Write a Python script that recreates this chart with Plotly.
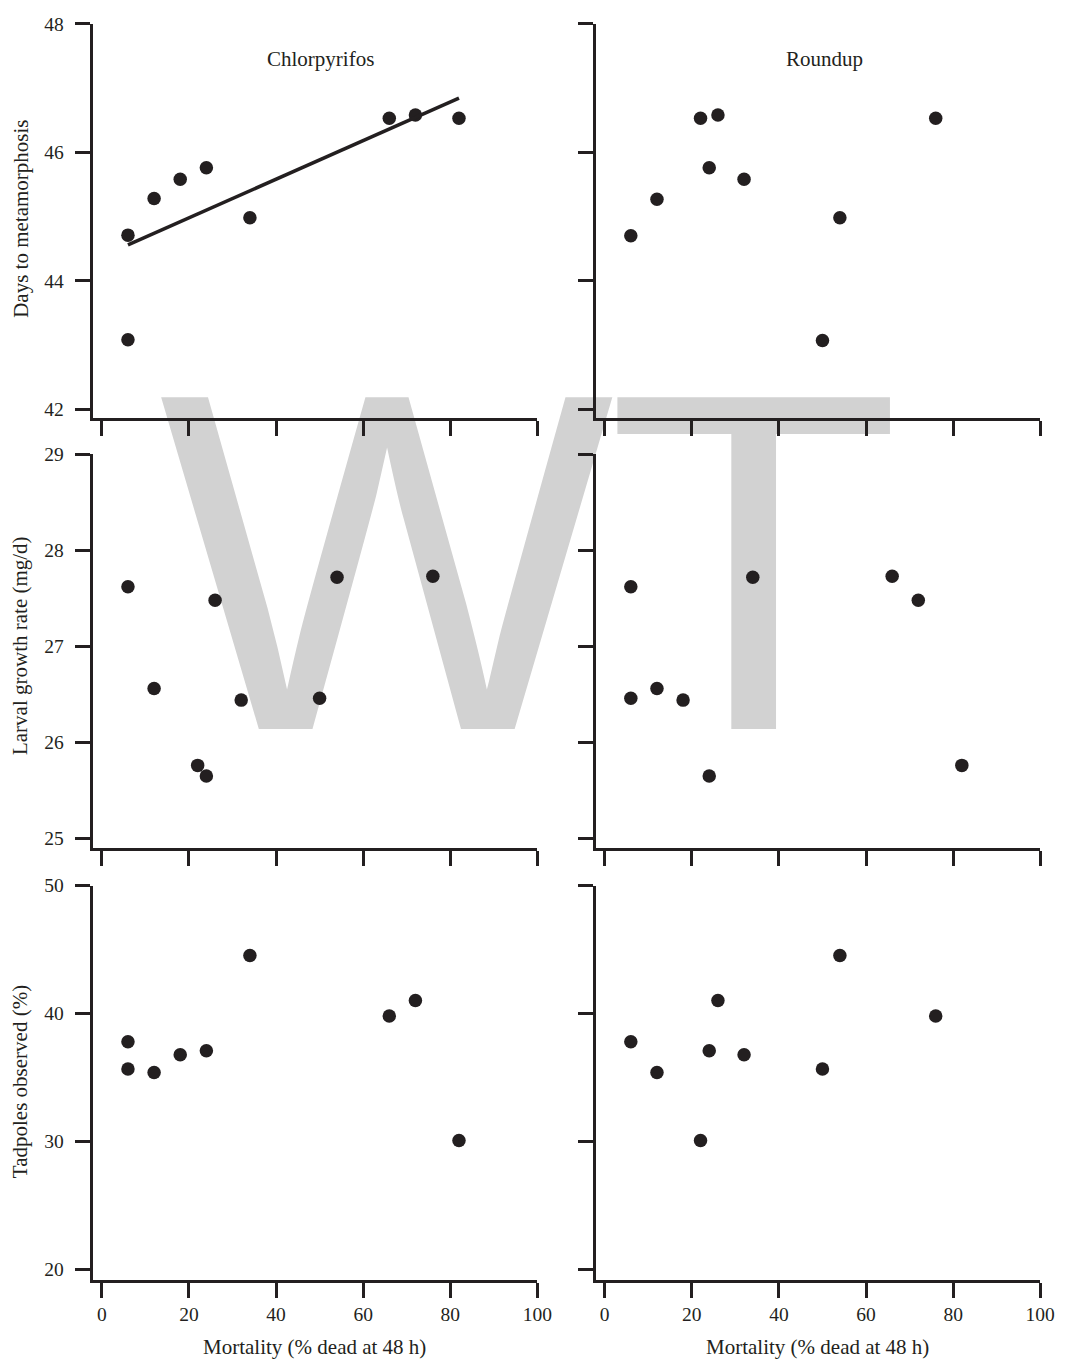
import numpy as np
import plotly.graph_objects as go

# ---------------- data ----------------
chlor_mortality = [6, 6, 12, 18, 24, 34, 66, 72, 82]
round_mortality = [6, 12, 22, 24, 26, 32, 50, 54, 76]

# Days to metamorphosis
days_chlor = [44.71, 43.08, 45.28, 45.58, 45.76, 44.98, 46.53, 46.58, 46.53]
days_round = [44.70, 45.27, 46.53, 45.76, 46.58, 45.58, 43.07, 44.98, 46.53]

# Larval growth rate (mg/d), as plotted
growth_left_x = [6, 12, 22, 24, 26, 32, 50, 54, 76]
growth_left_y = [27.62, 26.56, 25.76, 25.65, 27.48, 26.44, 26.46, 27.72, 27.73]
growth_right_x = [6, 6, 12, 18, 24, 34, 66, 72, 82]
growth_right_y = [27.62, 26.46, 26.56, 26.44, 25.65, 27.72, 27.73, 27.48, 25.76]

# Tadpoles observed (%)
tad_chlor = [37.79, 35.67, 35.39, 36.78, 37.09, 44.53, 39.80, 41.01, 30.07]
tad_round = [37.79, 35.39, 30.07, 37.09, 41.01, 36.78, 35.67, 44.53, 39.80]

col_titles = ["Chlorpyrifos", "Roundup"]
row_titles = ["Days to metamorphosis", "Larval growth rate (mg/d)", "Tadpoles observed (%)"]
x_title = "Mortality (% dead at 48 h)"
x_ticks = [0, 20, 40, 60, 80, 100]
y_ticks = [[42, 44, 46, 48], [25, 26, 27, 28, 29], [20, 30, 40, 50]]
y_ranges = [[41.86, 48], [24.896, 29], [19.218, 50]]
x_range = [-2.1, 100]
watermark_letters = ["W", "T"]

# ---------------- layout geometry (pixels) ----------------
W, H = 1072, 1361
INK = "#231f20"
FONT = "Liberation Serif, Times New Roman, serif"

col_px = [(94.0, 545.0), (604.0, 1055.0)]
row_px = [(14.0, 411.8), (448.3, 845.8), (883.3, 1280.8)]

panels = [
    (0, 0, chlor_mortality, days_chlor),
    (0, 1, round_mortality, days_round),
    (1, 0, growth_left_x, growth_left_y),
    (1, 1, growth_right_x, growth_right_y),
    (2, 0, chlor_mortality, tad_chlor),
    (2, 1, round_mortality, tad_round),
]

fig = go.Figure()
layout = {}
for i, (r, c, xs, ys) in enumerate(panels):
    n = i + 1
    xa = "xaxis" if n == 1 else f"xaxis{n}"
    ya = "yaxis" if n == 1 else f"yaxis{n}"
    xref = "x" if n == 1 else f"x{n}"
    yref = "y" if n == 1 else f"y{n}"
    fig.add_trace(go.Scatter(
        x=xs, y=ys, mode="markers", xaxis=xref, yaxis=yref,
        marker=dict(size=13.5, color=INK, line=dict(width=0)),
        showlegend=False, cliponaxis=False,
    ))
    if r == 0 and c == 0:
        slope, intercept = np.polyfit(xs, ys, 1)
        fx = [min(xs), max(xs)]
        fy = [slope * v + intercept for v in fx]
        fig.add_trace(go.Scatter(
            x=fx, y=fy, mode="lines", xaxis=xref, yaxis=yref,
            line=dict(color=INK, width=3.5), showlegend=False,
        ))
    x0, x1 = col_px[c]
    y0, y1 = row_px[r]
    layout[xa] = dict(
        domain=[x0 / W, x1 / W], range=x_range, anchor=yref,
        showline=True, linewidth=3, linecolor=INK,
        ticks="outside", ticklen=15, tickwidth=3, tickcolor=INK,
        tickvals=x_ticks, showticklabels=(r == 2),
        tickfont=dict(family=FONT, size=19.5, color=INK),
        showgrid=False, zeroline=False, fixedrange=True,
    )
    layout[ya] = dict(
        domain=[1 - y1 / H, 1 - y0 / H], range=y_ranges[r], anchor=xref,
        showline=True, linewidth=3, linecolor=INK,
        ticks="outside", ticklen=15, tickwidth=3, tickcolor=INK,
        tickvals=y_ticks[r], showticklabels=(c == 0),
        ticklabelstandoff=7,
        tickfont=dict(family=FONT, size=19.5, color=INK),
        showgrid=False, zeroline=False, fixedrange=True,
    )

annotations = []
for t, cx in zip(col_titles, [325, 836]):
    annotations.append(dict(text=t, x=cx / W, y=1 - 49 / H, xref="paper", yref="paper",
                            showarrow=False, xanchor="center", yanchor="middle",
                            font=dict(family=FONT, size=21, color=INK)))
for t, cy in zip(row_titles, [211, 641, 1081]):
    annotations.append(dict(text=t, x=21 / W, y=1 - cy / H, xref="paper", yref="paper",
                            showarrow=False, xanchor="center", yanchor="middle", textangle=-90,
                            font=dict(family=FONT, size=21, color=INK)))
for cx in [319, 829]:
    annotations.append(dict(text=x_title, x=cx / W, y=1 - 1349 / H, xref="paper", yref="paper",
                            showarrow=False, xanchor="center", yanchor="middle",
                            font=dict(family=FONT, size=21, color=INK)))

# watermark letters, drawn beneath plots and axes
shapes = []
for letter, cx in zip(watermark_letters, [392, 764.5]):
    shapes.append(dict(
        type="rect", xref="paper", yref="paper", layer="below",
        x0=(cx - 100) / W, x1=(cx + 100) / W, y0=1 - 541 / H, y1=1 - 480 / H,
        line=dict(width=0), fillcolor="rgba(0,0,0,0)",
        label=dict(text=letter, textposition="middle center",
                   font=dict(family="Liberation Sans, Arial, sans-serif", size=482, color="#d2d2d2")),
    ))

fig.update_layout(
    width=W, height=H, margin=dict(l=0, r=0, t=0, b=0),
    paper_bgcolor="white", plot_bgcolor="rgba(0,0,0,0)",
    annotations=annotations, shapes=shapes, showlegend=False,
    **layout,
)
fig.write_html("out.html")
